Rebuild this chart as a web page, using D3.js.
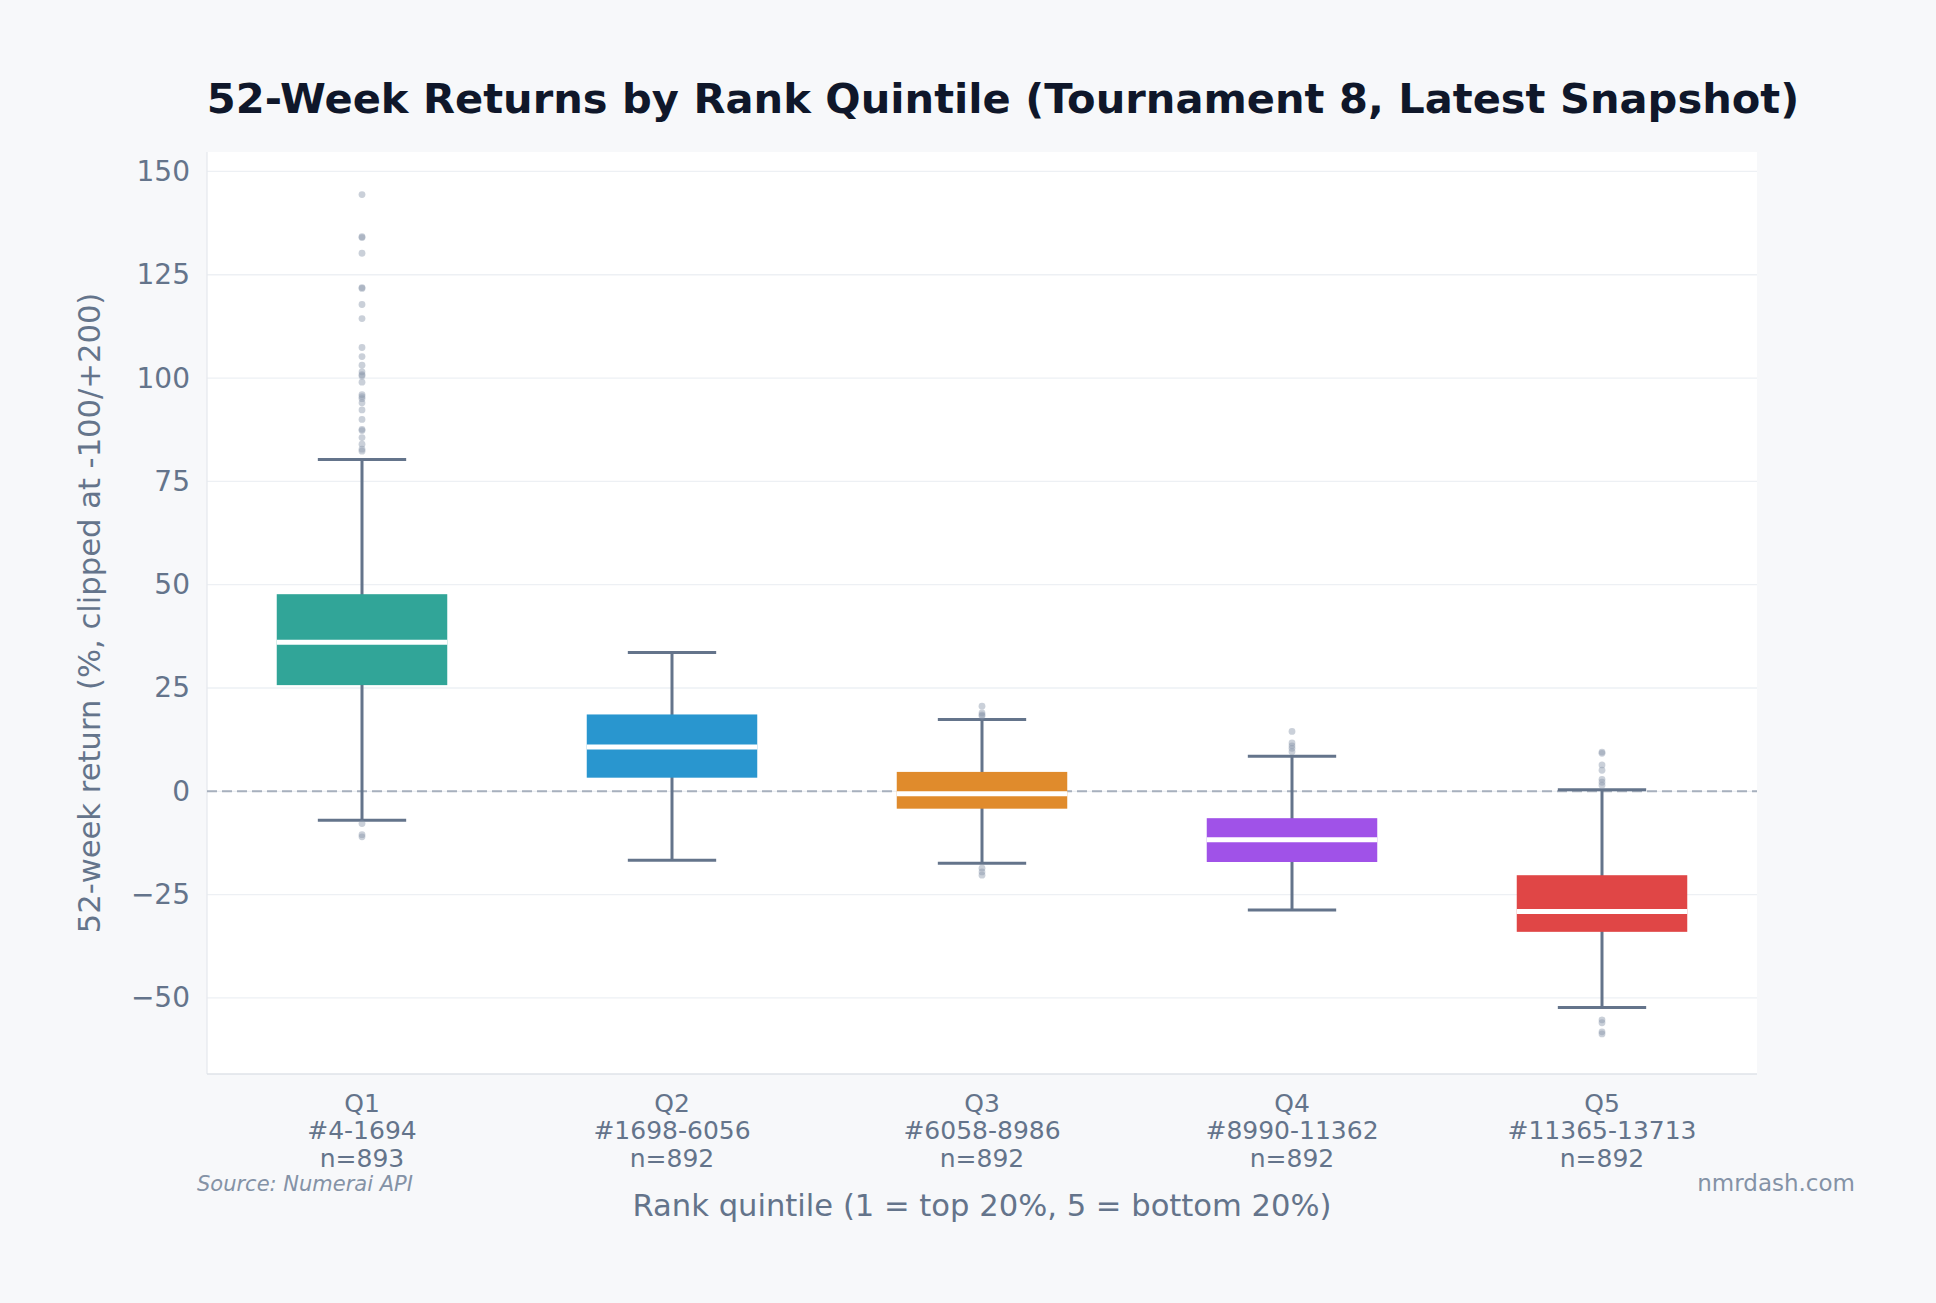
<!DOCTYPE html>
<html>
<head>
<meta charset="utf-8">
<script src="https://cdn.jsdelivr.net/npm/d3@7"></script>
<style>
  body { margin: 0; background: #f7f8fa; }
  svg { display: block; font-family: "DejaVu Sans", sans-serif; }
</style>
</head>
<body>
<div id="chart"></div>
<script>
// box stats (52-week return, %)
const quintiles = ["Q1", "Q2", "Q3", "Q4", "Q5"];
const rankRanges = ["#4-1694", "#1698-6056", "#6058-8986", "#8990-11362", "#11365-13713"];
const counts = [893, 892, 892, 892, 892];
const whiskerLow = [-7.0, -16.7, -17.4, -28.7, -52.3];
const lowerQuart = [25.7, 3.3, -4.2, -17.1, -34.0];
const medians = [36.1, 10.7, -0.6, -11.7, -29.1];
const upperQuart = [47.7, 18.6, 4.7, -6.5, -20.3];
const whiskerHigh = [80.3, 33.6, 17.4, 8.5, 0.4];
const outliers = [
  [144.4, 134.0, 134.2, 130.2, 121.7, 121.9, 117.8, 114.4, 107.4, 105.2, 103.1, 101.5, 100.8, 100.5,
   99.0, 96.0, 95.5, 95.0, 94.0, 92.3, 90.0, 87.3, 87.6, 85.6, 84.0, 82.3, 82.8, -7.8, -10.5, -11.0],
  [],
  [20.6, 19.0, 18.5, 18.2, -18.6, -19.5, -20.3],
  [14.5, 11.7, 11.0, 10.4, 9.6],
  [9.2, 9.5, 6.4, 5.1, 2.9, 2.2, 1.5, -55.3, -56.0, -58.2, -58.7]
];
const colors = ["#31a598", "#2996cf", "#e08b2c", "#a052e8", "#e04646"];
const yTicks = [-50, -25, 0, 25, 50, 75, 100, 125, 150];

const W = 1936, H = 1303;
const margin = { top: 152, right: 179, bottom: 229, left: 207 };
const width = W - margin.left - margin.right,
  height = H - margin.top - margin.bottom;

const boxes = quintiles.map((q, i) => ({
  q, i,
  lo: whiskerLow[i], q1: lowerQuart[i], med: medians[i], q3: upperQuart[i], hi: whiskerHigh[i],
  out: outliers[i]
}));

const svg = d3.select("#chart").append("svg")
  .attr("width", W)
  .attr("height", H);

svg.append("rect").attr("width", W).attr("height", H).attr("fill", "#f7f8fa");

// title
svg.append("text")
  .attr("x", W / 2 + 35)
  .attr("y", 113)
  .attr("text-anchor", "middle")
  .style("font-size", "41.6px")
  .style("font-weight", "bold")
  .style("fill", "#0f172a")
  .text("52-Week Returns by Rank Quintile (Tournament 8, Latest Snapshot)");

const g = svg.append("g")
  .attr("transform", "translate(" + margin.left + "," + margin.top + ")");

g.append("rect").attr("width", width).attr("height", height).attr("fill", "#ffffff");

const x = d3.scaleBand().domain(quintiles).range([0, width]);
const y = d3.scaleLinear().domain([-68.4, 154.7]).range([height, 0]);

// grid
g.selectAll(".grid")
  .data(yTicks)
  .join("line")
  .attr("x1", 0).attr("x2", width)
  .attr("y1", d => y(d)).attr("y2", d => y(d))
  .attr("stroke", "#edf0f4")
  .attr("stroke-width", 1.3);

// spines
g.append("line").attr("x1", 0).attr("x2", 0).attr("y1", 0).attr("y2", height)
  .attr("stroke", "#e6e9ee").attr("stroke-width", 1.3);
g.append("line").attr("x1", 0).attr("x2", width).attr("y1", height).attr("y2", height)
  .attr("stroke", "#dfe3e9").attr("stroke-width", 1.3);

// y axis
const yAxis = g.append("g")
  .call(d3.axisLeft(y).tickValues(yTicks).tickSize(0).tickPadding(17)
    .tickFormat(d => d < 0 ? "\u2212" + Math.abs(d) : d));
yAxis.select(".domain").remove();
yAxis.selectAll("text")
  .style("font-size", "28px")
  .style("font-family", "DejaVu Sans")
  .style("fill", "#64748b");

// zero reference
g.append("line")
  .attr("x1", 0).attr("x2", width)
  .attr("y1", y(0)).attr("y2", y(0))
  .attr("stroke", "#a7b0bd")
  .attr("stroke-width", 2)
  .attr("stroke-dasharray", "10,5");

const boxW = x.bandwidth() * 0.55;
const capW = x.bandwidth() * 0.285;

const bx = g.selectAll(".box")
  .data(boxes)
  .join("g")
  .attr("transform", d => "translate(" + (x(d.q) + x.bandwidth() / 2) + ",0)");

// whiskers
bx.append("line")
  .attr("x1", 0).attr("x2", 0)
  .attr("y1", d => y(d.hi)).attr("y2", d => y(d.lo))
  .attr("stroke", "#64748b").attr("stroke-width", 3);
bx.append("line")
  .attr("x1", -capW / 2).attr("x2", capW / 2)
  .attr("y1", d => y(d.hi)).attr("y2", d => y(d.hi))
  .attr("stroke", "#64748b").attr("stroke-width", 3);
bx.append("line")
  .attr("x1", -capW / 2).attr("x2", capW / 2)
  .attr("y1", d => y(d.lo)).attr("y2", d => y(d.lo))
  .attr("stroke", "#64748b").attr("stroke-width", 3);

// boxes
bx.append("rect")
  .attr("x", -boxW / 2)
  .attr("width", boxW)
  .attr("y", d => y(d.q3))
  .attr("height", d => y(d.q1) - y(d.q3))
  .attr("fill", d => colors[d.i]);

// median
bx.append("line")
  .attr("x1", -boxW / 2).attr("x2", boxW / 2)
  .attr("y1", d => y(d.med)).attr("y2", d => y(d.med))
  .attr("stroke", "#ffffff").attr("stroke-width", 5);

// fliers
bx.selectAll("circle")
  .data(d => d.out)
  .join("circle")
  .attr("cx", 0)
  .attr("cy", d => y(d))
  .attr("r", 3.4)
  .attr("fill", "#8a97ab")
  .attr("opacity", 0.45);

// x tick labels (3 lines)
const xl = g.selectAll(".xlab")
  .data(boxes)
  .join("text")
  .attr("text-anchor", "middle")
  .attr("x", d => x(d.q) + x.bandwidth() / 2)
  .attr("y", height + 37.5)
  .style("font-size", "25px")
  .style("fill", "#64748b");
xl.append("tspan").attr("x", d => x(d.q) + x.bandwidth() / 2).attr("dy", 0).text(d => d.q);
xl.append("tspan").attr("x", d => x(d.q) + x.bandwidth() / 2).attr("dy", 27.7).text(d => rankRanges[d.i]);
xl.append("tspan").attr("x", d => x(d.q) + x.bandwidth() / 2).attr("dy", 27.7).text(d => "n=" + counts[d.i]);

// axis titles
svg.append("text")
  .attr("x", margin.left + width / 2)
  .attr("y", 1216)
  .attr("text-anchor", "middle")
  .style("font-size", "30.6px")
  .style("fill", "#64748b")
  .text("Rank quintile (1 = top 20%, 5 = bottom 20%)");

svg.append("text")
  .attr("transform", "translate(100," + (margin.top + height / 2) + ") rotate(-90)")
  .attr("text-anchor", "middle")
  .style("font-size", "30.6px")
  .style("fill", "#64748b")
  .text("52-week return (%, clipped at -100/+200)");

// footer
svg.append("text")
  .attr("x", 197)
  .attr("y", 1191)
  .style("font-size", "21px")
  .style("font-style", "italic")
  .style("fill", "#8492a6")
  .text("Source: Numerai API");

svg.append("text")
  .attr("x", 1855)
  .attr("y", 1191)
  .attr("text-anchor", "end")
  .style("font-size", "23px")
  .style("fill", "#8492a6")
  .text("nmrdash.com");
</script>
</body>
</html>
